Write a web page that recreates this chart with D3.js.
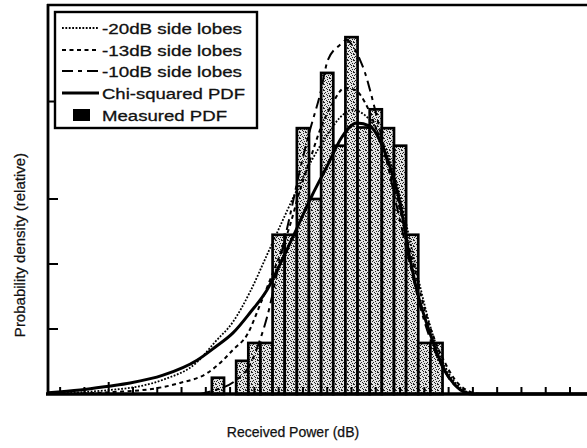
<!DOCTYPE html>
<html>
<head>
<meta charset="utf-8">
<script src="https://cdn.jsdelivr.net/npm/d3@7"></script>
<style>
  html, body { margin: 0; padding: 0; background: #fff; }
  svg { display: block; }
  text { font-family: "Liberation Sans", Arial, Helvetica, sans-serif; fill: #111; }
</style>
</head>
<body>
<svg id="chart" width="587" height="448"></svg>
<script>
// ---- data (x in arbitrary received-power units, y relative density) ----
const binCenters = [6.5, 7, 7.5, 8, 8.5, 9, 9.5, 10, 10.5, 11, 11.5, 12, 12.5, 13, 13.5, 14, 14.5, 15, 15.5];
const measuredPDF = [0.25, 0, 0.51, 0.785, 0.785, 2.45, 2.45, 4.09, 3.0, 4.94, 3.82, 5.49, 4.1, 4.38, 4.09, 3.82, 2.45, 0.785, 0.785];
const binWidth = 0.5;

const chiX = [-0.49, 0.82, 2.0, 2.88, 4.24, 5.64, 6.38, 7.12, 7.82, 8.52, 9.14, 9.75, 10.37, 10.99, 11.6, 12.22, 12.76, 13.17, 13.58, 13.99, 14.4, 14.69, 15.23, 15.76, 16.34, 16.95, 21.7];
const chiY = [0.02, 0.06, 0.12, 0.17, 0.29, 0.52, 0.72, 0.94, 1.25, 1.6, 2.06, 2.55, 3.05, 3.5, 3.95, 4.17, 4.12, 3.9, 3.5, 2.95, 2.1, 1.6, 0.94, 0.42, 0.11, 0.0, 0.0];

const sl20X = [0, 2.0, 3.29, 4.24, 5.64, 6.38, 7.12, 7.82, 8.52, 9.14, 9.75, 10.37, 10.99, 11.52, 12.02, 12.55, 13.09, 13.58, 13.99, 14.4, 14.81, 15.23, 15.64, 16.05, 16.54, 17.08];
const sl20Y = [0.01, 0.06, 0.12, 0.22, 0.49, 0.8, 1.11, 1.57, 2.14, 2.65, 3.14, 3.6, 3.98, 4.25, 4.37, 4.29, 4.03, 3.6, 3.06, 2.37, 1.68, 1.06, 0.6, 0.29, 0.08, 0.0];

const sl13X = [0, 2.18, 3.99, 4.94, 6.05, 6.71, 7.12, 7.7, 8.23, 8.64, 9.05, 9.47, 9.88, 10.29, 10.7, 11.19, 11.73, 12.14, 12.55, 12.96, 13.37, 13.79, 14.2, 14.61, 15.02, 15.43, 15.84, 16.26, 16.79, 17.3];
const sl13Y = [0, 0.03, 0.09, 0.17, 0.32, 0.52, 0.68, 0.91, 1.37, 1.75, 2.14, 2.6, 3.14, 3.6, 4.06, 4.45, 4.71, 4.68, 4.49, 4.14, 3.68, 3.14, 2.52, 1.91, 1.29, 0.83, 0.49, 0.22, 0.05, 0];

const sl10X = [5.76, 6.38, 7.2, 7.82, 8.23, 8.52, 9.05, 9.47, 9.88, 10.29, 10.7, 11.03, 11.52, 11.81, 12.02, 12.35, 12.55, 12.76, 13.17, 13.58, 13.99, 14.4, 14.81, 15.23, 15.64, 16.05, 16.54, 17.08];
const sl10Y = [0, 0.06, 0.2, 0.45, 0.83, 1.18, 2.06, 2.75, 3.45, 4.06, 4.6, 5.14, 5.37, 5.45, 5.37, 5.14, 4.95, 4.68, 4.06, 3.37, 2.68, 2.02, 1.37, 0.86, 0.49, 0.22, 0.06, 0];

const xTicks = d3.range(0, 22);
const yTicks = [1, 2, 3, 4.5];
const legendLabels = ["-20dB side lobes", "-13dB side lobes", "-10dB side lobes", "Chi-squared PDF", "Measured PDF"];

// ---- drawing ----
const svg = d3.select("#chart");
const x = d3.scaleLinear().domain([-0.5, 21.7]).range([48, 587]);
const y = d3.scaleLinear().domain([0, 5.985]).range([394, 5]);

// stipple pattern (scanned halftone look)
const defs = svg.append("defs");
const pat = defs.append("pattern").attr("id", "stip").attr("patternUnits", "userSpaceOnUse")
  .attr("width", 6).attr("height", 6);
pat.append("rect").attr("width", 6).attr("height", 6).attr("fill", "#e4e4e4");
[[0,0],[3,1],[1,2],[4,3],[2,4],[5,5],[0,3],[5,0],[3,5]].forEach(([px,py]) =>
  pat.append("rect").attr("x", px).attr("y", py).attr("width", 1).attr("height", 1).attr("fill", "#222"));

// bars
svg.append("g").selectAll("rect").data(binCenters).join("rect")
  .attr("x", (d) => x(d - binWidth/2))
  .attr("width", (d) => x(d + binWidth/2) - x(d - binWidth/2))
  .attr("y", (d, i) => y(measuredPDF[i]))
  .attr("height", (d, i) => y(0) - y(measuredPDF[i]))
  .attr("fill", "url(#stip)")
  .attr("stroke", "#000")
  .attr("stroke-width", (d, i) => measuredPDF[i] > 0 ? 2.7 : 0);

// curves
const line = d3.line().x(d => x(d[0])).y(d => y(d[1])).curve(d3.curveMonotoneX);
const series = [
  {xs: sl20X, ys: sl20Y, dash: "1.8,1.6", w: 1.8},
  {xs: sl13X, ys: sl13Y, dash: "4,3.5", w: 2},
  {xs: sl10X, ys: sl10Y, dash: "11,5,4,5", w: 2},
  {xs: chiX, ys: chiY, dash: null, w: 3}
];
series.forEach(s => {
  svg.append("path").datum(s.xs.map((v, i) => [v, s.ys[i]]))
    .attr("d", line).attr("fill", "none").attr("stroke", "#000")
    .attr("stroke-width", s.w).attr("stroke-dasharray", s.dash);
});

// axes
const xAxis = d3.axisBottom(x).tickValues(xTicks).tickSize(0).tickFormat("");
svg.append("g").attr("transform", "translate(0,394)").call(xAxis)
  .call(g => g.select(".domain").remove());
svg.append("g").selectAll("line.xt").data(xTicks).join("line")
  .attr("x1", d => x(d)).attr("x2", d => x(d))
  .attr("y1", 394).attr("y2", d => d === 2 ? 382 : 387)
  .attr("stroke", "#000").attr("stroke-width", 2);

const yAxis = d3.axisLeft(y).tickValues(yTicks).tickSize(0).tickFormat("");
svg.append("g").attr("transform", "translate(48,0)").call(yAxis)
  .call(g => g.select(".domain").remove());
svg.append("g").selectAll("line.yt").data(yTicks).join("line")
  .attr("x1", 48).attr("x2", 58)
  .attr("y1", d => y(d)).attr("y2", d => y(d))
  .attr("stroke", "#000").attr("stroke-width", 2);

// frame lines
svg.append("line").attr("x1", 46).attr("x2", 587).attr("y1", 394).attr("y2", 394).attr("stroke", "#000").attr("stroke-width", 3.4);
svg.append("line").attr("x1", 48).attr("x2", 48).attr("y1", 4).attr("y2", 395).attr("stroke", "#000").attr("stroke-width", 2.8);
svg.append("line").attr("x1", 47).attr("x2", 587).attr("y1", 5).attr("y2", 5).attr("stroke", "#000").attr("stroke-width", 2.4);

// axis labels
svg.append("text").attr("x", 293).attr("y", 437).attr("text-anchor", "middle")
  .attr("font-size", 14).attr("stroke", "#111").attr("stroke-width", 0.25)
  .text("Received Power (dB)");
svg.append("text").attr("transform", "translate(25,245) rotate(-90)").attr("text-anchor", "middle")
  .attr("font-size", 15).attr("stroke", "#111").attr("stroke-width", 0.25)
  .text("Probability density (relative)");

// legend
const lg = svg.append("g");
lg.append("rect").attr("x", 55).attr("y", 12).attr("width", 202).attr("height", 116)
  .attr("fill", "#fff").attr("stroke", "#000").attr("stroke-width", 2.4);
const rowY = [28, 50, 71, 93, 115];
const legendStyles = [
  {dash: "1.8,1.6", w: 1.8}, {dash: "4,3.5", w: 2}, {dash: "11,5,4,5", w: 2}, {dash: null, w: 3}
];
legendStyles.forEach((s, i) => {
  lg.append("line").attr("x1", 62).attr("x2", 99).attr("y1", rowY[i]).attr("y2", rowY[i])
    .attr("stroke", "#000").attr("stroke-width", s.w).attr("stroke-dasharray", s.dash);
});
lg.append("rect").attr("x", 73).attr("y", rowY[4] - 6).attr("width", 17).attr("height", 12).attr("fill", "#000");
const textLens = [140, 140, 140, 143, 125];
legendLabels.forEach((t, i) => {
  lg.append("text").attr("x", 102).attr("y", rowY[i] + 5.5).attr("font-size", 15.5)
    .attr("stroke", "#111").attr("stroke-width", 0.3)
    .attr("textLength", textLens[i]).attr("lengthAdjust", "spacingAndGlyphs").text(t);
});
</script>
</body>
</html>
